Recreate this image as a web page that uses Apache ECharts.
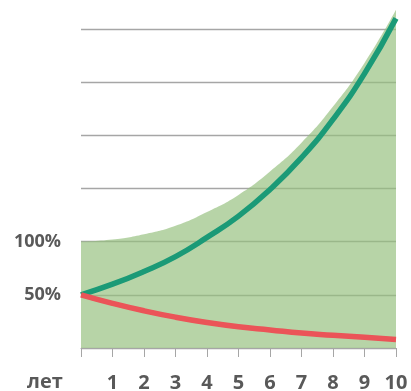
<!DOCTYPE html>
<html>
<head>
<meta charset="utf-8">
<script src="https://cdn.jsdelivr.net/npm/echarts@6/dist/echarts.min.js"></script>
<style>
html,body{margin:0;padding:0;background:#fff;}
#chart{width:411px;height:391px;}
</style>
</head>
<body>
<div id="chart"></div>
<script>
// Years 0..10
const years = [0, 1, 2, 3, 4, 5, 6, 7, 8, 9, 10];
// Growing share (%)
const growth = [50, 60, 72, 86, 104, 124, 149, 179, 215, 258, 310];
// Shrinking share (%)
const decline = [50, 42, 35, 29, 24, 20, 17, 14, 12, 10, 8];
// Combined range (%)
const total = [100, 102, 107, 115, 128, 144, 166, 193, 227, 268, 318];
const yTickLabels = { 50: '50%', 100: '100%' };

const pts = arr => years.map((x, i) => [x, arr[i]]);
const fontFamily = '"Open Sans", "Liberation Sans", sans-serif';

const chart = echarts.init(document.getElementById('chart'), null, { renderer: 'canvas' });
chart.setOption({
  animation: false,
  grid: { left: 81, right: 15, top: 29, bottom: 43, outerBoundsMode: 'none', containLabel: false },
  xAxis: {
    type: 'value', min: 0, max: 10, interval: 1,
    axisLine: { show: true, lineStyle: { color: '#a6a6a6', width: 1 } },
    axisTick: { show: true, inside: false, length: 9, lineStyle: { color: '#a6a6a6' } },
    splitLine: { show: false },
    axisLabel: {
      margin: 25, color: '#595959', fontSize: 20, fontWeight: 'bold', fontFamily,
      formatter: v => (v === 0 ? '' : String(v))
    }
  },
  yAxis: {
    type: 'value', min: 0, max: 300, interval: 50,
    axisLine: { show: false }, axisTick: { show: false },
    splitLine: { show: true, lineStyle: { color: '#a6a6a6', width: 1.3 } },
    axisLabel: {
      margin: 20, color: '#595959', fontSize: 18, fontWeight: 'bold', fontFamily,
      padding: [4, 0, 0, 0],
      formatter: v => yTickLabels[v] || ''
    }
  },
  graphic: [{
    type: 'text', left: 27, top: 372,
    style: { text: 'лет', fill: '#595959', font: 'bold 20px ' + fontFamily }
  }],
  series: [
    {
      type: 'line', data: pts(total), smooth: true, symbol: 'none', clip: false, z: 1,
      lineStyle: { width: 0 },
      areaStyle: { color: 'rgb(149,192,126)', opacity: 0.68 }
    },
    {
      type: 'line', data: pts(growth), smooth: true, symbol: 'none', clip: false, z: 3,
      lineStyle: { color: '#1b9a77', width: 5.5 }
    },
    {
      type: 'line', data: pts(decline), smooth: true, symbol: 'none', clip: false, z: 3,
      lineStyle: { color: '#eb5458', width: 5.5 }
    }
  ]
});
</script>
</body>
</html>
